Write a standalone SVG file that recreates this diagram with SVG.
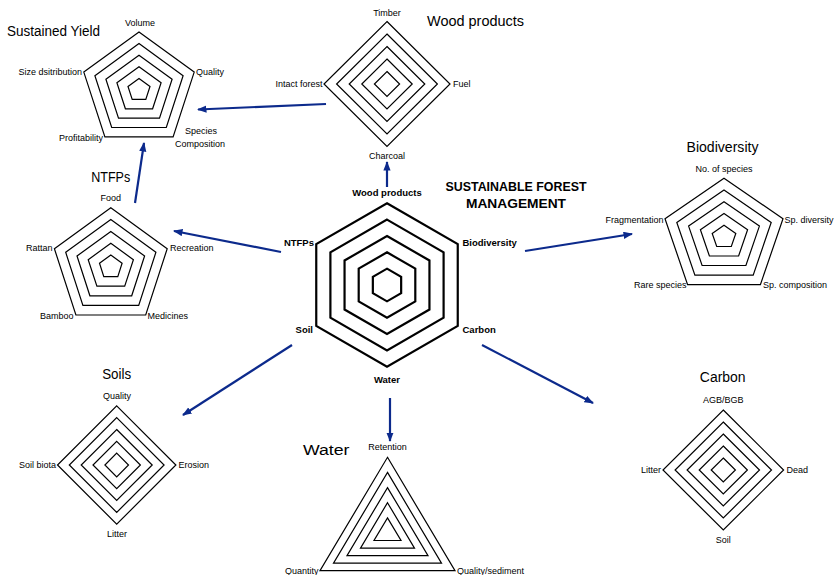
<svg xmlns="http://www.w3.org/2000/svg" width="837" height="575" viewBox="0 0 837 575">
<style>
.bg{fill:#ffffff}
.ring{fill:none;stroke:#000;stroke-width:1.2;stroke-linejoin:miter}
.hex{fill:none;stroke:#000;stroke-width:2.2;stroke-linejoin:miter}
.lbl{font-family:"Liberation Sans",Arial,sans-serif;font-size:9px;fill:#000}
.blbl{font-family:"Liberation Sans",Arial,sans-serif;font-size:9.5px;font-weight:bold;fill:#000}
.ttl{font-family:"Liberation Sans",Arial,sans-serif;font-size:14px;fill:#000}
.main{font-family:"Liberation Sans",Arial,sans-serif;font-size:12.4px;font-weight:bold;fill:#000}
.mid{text-anchor:middle}
.end{text-anchor:end}
.arrow{fill:none;stroke:#0c2a8c;stroke-width:2.2;marker-end:url(#ah)}
</style>
<defs>
<marker id="ah" markerUnits="userSpaceOnUse" markerWidth="10" markerHeight="8" refX="8.5" refY="3.6" orient="auto">
<path d="M0,0 L9.5,3.6 L0,7.2 z" fill="#0c2a8c"/>
</marker>
</defs>
<rect class="bg" x="0" y="0" width="837" height="575"/>

<g id="sustained-yield">
<polygon class="ring" points="139,32 194.2,72.1 173.1,136.9 104.9,136.9 83.8,72.1"/>
<polygon class="ring" points="139,43.6 183.1,75.7 166.3,127.5 111.7,127.5 94.9,75.7"/>
<polygon class="ring" points="139,55.2 172.1,79.2 159.5,118.2 118.5,118.2 105.9,79.2"/>
<polygon class="ring" points="139,66.8 161.1,82.8 152.6,108.8 125.4,108.8 116.9,82.8"/>
<polygon class="ring" points="139,78.4 150,86.4 145.8,99.4 132.2,99.4 128,86.4"/>
<text class="ttl" x="7" y="36" textLength="93" lengthAdjust="spacingAndGlyphs">Sustained Yield</text>
<text class="lbl mid" x="140" y="25.5">Volume</text>
<text class="lbl" x="196" y="74.5">Quality</text>
<text class="lbl end" x="82" y="74.5">Size dsitribution</text>
<text class="lbl end" x="103" y="141">Profitability</text>
<text class="lbl mid" x="201" y="134">Species</text>
<text class="lbl mid" x="200" y="147">Composition</text>
</g>

<g id="wood-products">
<polygon class="ring" points="387,21.5 450,84 387,146.5 324,84"/>
<polygon class="ring" points="387,34 437.4,84 387,134 336.6,84"/>
<polygon class="ring" points="387,46.5 424.8,84 387,121.5 349.2,84"/>
<polygon class="ring" points="387,59 412.2,84 387,109 361.8,84"/>
<polygon class="ring" points="387,71.5 399.6,84 387,96.5 374.4,84"/>
<text class="ttl" x="427" y="26" textLength="97" lengthAdjust="spacingAndGlyphs">Wood products</text>
<text class="lbl mid" x="387" y="15.5">Timber</text>
<text class="lbl end" x="322.5" y="86.5">Intact forest</text>
<text class="lbl" x="453" y="86.5">Fuel</text>
<text class="lbl mid" x="387" y="159">Charcoal</text>
</g>

<g id="sfm">
<polygon class="hex" points="387,203.3 457.75,244.15 457.75,325.85 387,366.7 316.25,325.85 316.25,244.15"/>
<polygon class="hex" points="387,219.64 443.6,252.32 443.6,317.68 387,350.36 330.4,317.68 330.4,252.32"/>
<polygon class="hex" points="387,235.98 429.45,260.49 429.45,309.51 387,334.02 344.55,309.51 344.55,260.49"/>
<polygon class="hex" points="387,252.32 415.3,268.66 415.3,301.34 387,317.68 358.7,301.34 358.7,268.66"/>
<polygon class="hex" points="387,268.66 401.15,276.83 401.15,293.17 387,301.34 372.85,293.17 372.85,276.83"/>
<text class="main mid" x="516" y="191" textLength="141" lengthAdjust="spacingAndGlyphs">SUSTAINABLE FOREST</text>
<text class="main mid" x="516" y="208" textLength="100" lengthAdjust="spacingAndGlyphs">MANAGEMENT</text>
<text class="blbl mid" x="387" y="196">Wood products</text>
<text class="blbl end" x="314" y="246">NTFPs</text>
<text class="blbl" x="462.5" y="246">Biodiversity</text>
<text class="blbl end" x="313" y="333">Soil</text>
<text class="blbl" x="462.5" y="333">Carbon</text>
<text class="blbl mid" x="387" y="383">Water</text>
</g>

<g id="biodiversity">
<polygon class="ring" points="724,178.2 783,218.8 760.4,284.6 687.6,284.6 665,218.8"/>
<polygon class="ring" points="724,190 771.2,222.5 753.2,275.1 694.9,275.1 676.8,222.5"/>
<polygon class="ring" points="724,201.7 759.4,226.1 745.9,265.5 702.1,265.5 688.6,226.1"/>
<polygon class="ring" points="724,213.5 747.6,229.7 738.6,256 709.4,256 700.4,229.7"/>
<polygon class="ring" points="724,225.2 735.8,233.4 731.3,246.5 716.7,246.5 712.2,233.4"/>
<text class="ttl mid" x="722.5" y="151.5" textLength="72" lengthAdjust="spacingAndGlyphs">Biodiversity</text>
<text class="lbl mid" x="724" y="172">No. of species</text>
<text class="lbl end" x="663.5" y="223">Fragmentation</text>
<text class="lbl" x="784.5" y="223">Sp. diversity</text>
<text class="lbl end" x="686.5" y="288">Rare species</text>
<text class="lbl" x="763" y="288">Sp. composition</text>
</g>

<g id="ntfps">
<polygon class="ring" points="110.8,207.7 167.2,248.7 145.7,315 75.9,315 54.4,248.7"/>
<polygon class="ring" points="110.8,219.6 155.9,252.3 138.7,305.4 82.9,305.4 65.7,252.3"/>
<polygon class="ring" points="110.8,231.4 144.6,256 131.7,295.8 89.9,295.8 77,256"/>
<polygon class="ring" points="110.8,243.3 133.4,259.7 124.7,286.2 96.9,286.2 88.2,259.7"/>
<polygon class="ring" points="110.8,255.1 122.1,263.3 117.8,276.6 103.8,276.6 99.5,263.3"/>
<text class="ttl mid" x="110.7" y="181.5" textLength="39" lengthAdjust="spacingAndGlyphs">NTFPs</text>
<text class="lbl mid" x="110.7" y="200.5">Food</text>
<text class="lbl end" x="52.5" y="250.5">Rattan</text>
<text class="lbl" x="170" y="250.5">Recreation</text>
<text class="lbl end" x="73.5" y="319">Bamboo</text>
<text class="lbl" x="147.5" y="319">Medicines</text>
</g>

<g id="soils">
<polygon class="ring" points="116.7,405.8 175.9,465 116.7,524.2 57.5,465"/>
<polygon class="ring" points="116.7,417.6 164.1,465 116.7,512.4 69.3,465"/>
<polygon class="ring" points="116.7,429.5 152.2,465 116.7,500.5 81.2,465"/>
<polygon class="ring" points="116.7,441.3 140.4,465 116.7,488.7 93,465"/>
<polygon class="ring" points="116.7,453.2 128.5,465 116.7,476.8 104.9,465"/>
<text class="ttl mid" x="116.7" y="378.5" textLength="29" lengthAdjust="spacingAndGlyphs">Soils</text>
<text class="lbl mid" x="117" y="399">Quality</text>
<text class="lbl end" x="56" y="468">Soil biota</text>
<text class="lbl" x="178.5" y="468">Erosion</text>
<text class="lbl mid" x="117" y="536.5">Litter</text>
</g>

<g id="water">
<polygon class="ring" points="387.5,457.3 455,570.7 320,570.7"/>
<polygon class="ring" points="387.5,472.4 441.5,563.2 333.5,563.2"/>
<polygon class="ring" points="387.5,487.6 428,555.6 347,555.6"/>
<polygon class="ring" points="387.5,502.7 414.5,548.1 360.5,548.1"/>
<polygon class="ring" points="387.5,517.9 401,540.5 374,540.5"/>
<text class="ttl" x="303" y="455" textLength="46.5" lengthAdjust="spacingAndGlyphs">Water</text>
<text class="lbl mid" x="387.5" y="450">Retention</text>
<text class="lbl end" x="318.5" y="574">Quantity</text>
<text class="lbl" x="457" y="574">Quality/sediment</text>
</g>

<g id="carbon">
<polygon class="ring" points="723.3,410 783.6,470 723.3,530 663,470"/>
<polygon class="ring" points="723.3,422 771.5,470 723.3,518 675.1,470"/>
<polygon class="ring" points="723.3,434 759.5,470 723.3,506 687.1,470"/>
<polygon class="ring" points="723.3,446 747.4,470 723.3,494 699.2,470"/>
<polygon class="ring" points="723.3,458 735.4,470 723.3,482 711.2,470"/>
<text class="ttl mid" x="722.7" y="381.5" textLength="45.7" lengthAdjust="spacingAndGlyphs">Carbon</text>
<text class="lbl mid" x="723.3" y="402.5">AGB/BGB</text>
<text class="lbl end" x="661" y="472.5">Litter</text>
<text class="lbl" x="786.5" y="472.5">Dead</text>
<text class="lbl mid" x="723.3" y="542.5">Soil</text>
</g>

<g id="connectors">
<line class="arrow" x1="326" y1="104" x2="198" y2="109.5"/>
<line class="arrow" x1="387" y1="187" x2="387" y2="162"/>
<line class="arrow" x1="281" y1="252" x2="174" y2="231"/>
<line class="arrow" x1="135" y1="203" x2="144" y2="143"/>
<line class="arrow" x1="525" y1="251" x2="632" y2="234"/>
<line class="arrow" x1="292" y1="345" x2="183" y2="415"/>
<line class="arrow" x1="390" y1="398" x2="390" y2="441"/>
<line class="arrow" x1="482" y1="345" x2="593" y2="403"/>
</g>
</svg>
